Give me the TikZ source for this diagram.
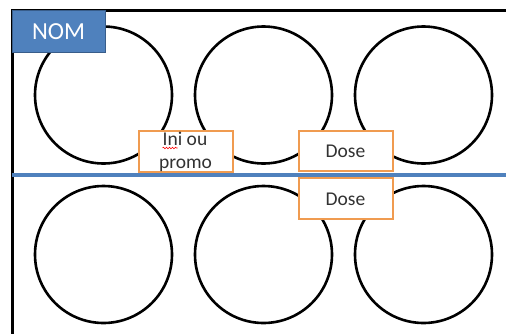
\documentclass[tikz,border=0pt]{standalone}
\usepackage{fontspec}
\setmainfont{Carlito}
\usetikzlibrary{decorations.pathmorphing}
\definecolor{nomblue}{RGB}{79,129,189}
\definecolor{nomedge}{RGB}{56,93,138}
\definecolor{doseorange}{RGB}{240,155,80}
\definecolor{labelgrey}{RGB}{50,50,50}
\tikzset{
  well/.style={circle, draw=black, line width=2.6pt, minimum size=137pt, inner sep=0pt},
  tagbox/.style={rectangle, draw=doseorange, line width=2.6pt, fill=white,
    minimum width=94pt, minimum height=41pt, inner sep=0pt},
  tagtext/.style={anchor=base, text=labelgrey, inner sep=0pt,
    font=\fontsize{19.5}{23}\selectfont},
  namebox/.style={rectangle, draw=nomedge, line width=1pt, fill=nomblue,
    minimum width=93pt, minimum height=42pt, inner sep=0pt},
  divider/.style={draw=nomblue, line width=3.5pt}
}
\begin{document}
\begin{tikzpicture}[x=1pt,y=-1pt]
  \useasboundingbox (0,0) rectangle (506,333);
  % plate outline (runs past the right and bottom edges)
  \coordinate (fb) at (12,340);
  \coordinate (ft) at (12,10);
  \coordinate (fr) at (512,10);
  \draw[line width=3pt] (fb) -- (ft) -- (fr);
  % wells, top row
  \node[well] (w1) at (103.5,95) {};
  \node[well] (w2) at (263.5,95) {};
  \node[well] (w3) at (423.5,95) {};
  % wells, bottom row
  \node[well] (w4) at (103.5,254.5) {};
  \node[well] (w5) at (263.5,254.5) {};
  \node[well] (w6) at (423.5,254.5) {};
  % separator between the two rows
  \coordinate (dl) at (12,175);
  \coordinate (dr) at (512,175);
  \draw[divider] (dl) -- (dr);
  % labels
  \node[tagbox] (ini) at (186,151.5) {};
  \node[tagtext] (ini1) at (185,145) {Ini ou};
  \node[tagtext] (ini2) at (185.5,168) {promo};
  \draw[red, line width=0.6pt, decorate,
        decoration={snake, amplitude=0.8pt, segment length=3pt}]
        ([yshift=-3pt]ini1.base west) -- ([xshift=15pt,yshift=-3pt]ini1.base west);
  \node[tagbox, minimum height=40pt] (dose1) at (346,151) {};
  \node[tagtext] (dose1t) at (345.5,157) {Dose};
  \node[tagbox] (dose2) at (346,198.5) {};
  \node[tagtext] (dose2t) at (345.5,205) {Dose};
  % plate name
  \node[namebox] (nom) at (58.5,31) {};
  \node[anchor=base, text=white, inner sep=0pt, font=\fontsize{24.5}{28}\selectfont]
    (nomt) at (58.5,39) {NOM};
\end{tikzpicture}
\end{document}
